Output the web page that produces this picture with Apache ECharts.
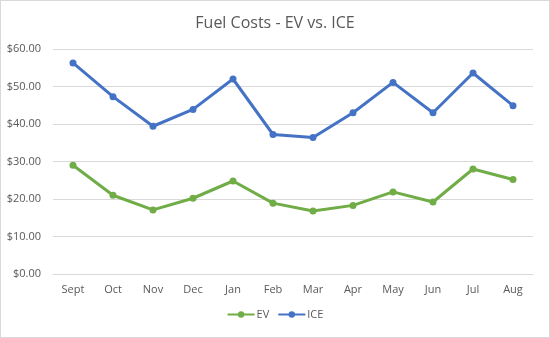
<!DOCTYPE html>
<html><head><meta charset="utf-8">
<script src="https://cdn.jsdelivr.net/npm/echarts@6/dist/echarts.min.js"></script>
<style>html,body{margin:0;padding:0;background:#fff}#c{width:548px;height:336px;border:1px solid #d9d9d9}</style>
</head><body><div id="c"></div>
<script>
const categories = ['Sept','Oct','Nov','Dec','Jan','Feb','Mar','Apr','May','Jun','Jul','Aug'];
const evValues = [29.0, 21.0, 17.1, 20.2, 24.8, 18.9, 16.8, 18.3, 21.9, 19.2, 28.0, 25.2];
const iceValues = [56.3, 47.3, 39.4, 43.9, 52.0, 37.2, 36.4, 43.0, 51.1, 43.0, 53.6, 44.9];
const yTicks = [0, 10, 20, 30, 40, 50, 60];

const chart = echarts.init(document.getElementById('c'));
const font = 'Open Sans, Noto Sans, sans-serif';
chart.setOption({
  animation: false,
  title: {text: 'Fuel Costs - EV vs. ICE', left: 'center', top: 9,
    textStyle: {fontFamily: font, fontSize: 16, fontWeight: 'normal', color: '#595959'}},
  grid: {left: 52, right: 16, top: 48, bottom: 63},
  legend: {bottom: 12, left: 'center', itemWidth: 27, itemHeight: 8, itemGap: 8,
    textStyle: {fontFamily: font, fontSize: 11, color: '#595959', padding: [0, 0, 0, -3]},
    data: ['EV','ICE']},
  xAxis: {type: 'category', data: categories, boundaryGap: true,
    axisLine: {lineStyle: {color: '#d9d9d9'}}, axisTick: {show: false},
    axisLabel: {fontFamily: font, fontSize: 11, color: '#595959', margin: 10}},
  yAxis: {type: 'value', min: yTicks[0], max: yTicks[yTicks.length-1], interval: 10,
    axisLine: {show: false}, axisTick: {show: false},
    splitLine: {lineStyle: {color: '#d9d9d9'}},
    axisLabel: {fontFamily: font, fontSize: 11, color: '#595959', margin: 12,
      formatter: v => '$' + v.toFixed(2)}},
  series: [
    {name: 'EV', type: 'line', data: evValues, symbol: 'circle', symbolSize: 7,
      lineStyle: {width: 3, color: '#70AD47'}, itemStyle: {color: '#70AD47'}},
    {name: 'ICE', type: 'line', data: iceValues, symbol: 'circle', symbolSize: 7,
      lineStyle: {width: 3, color: '#4472C4'}, itemStyle: {color: '#4472C4'}}
  ]
});
</script></body></html>
